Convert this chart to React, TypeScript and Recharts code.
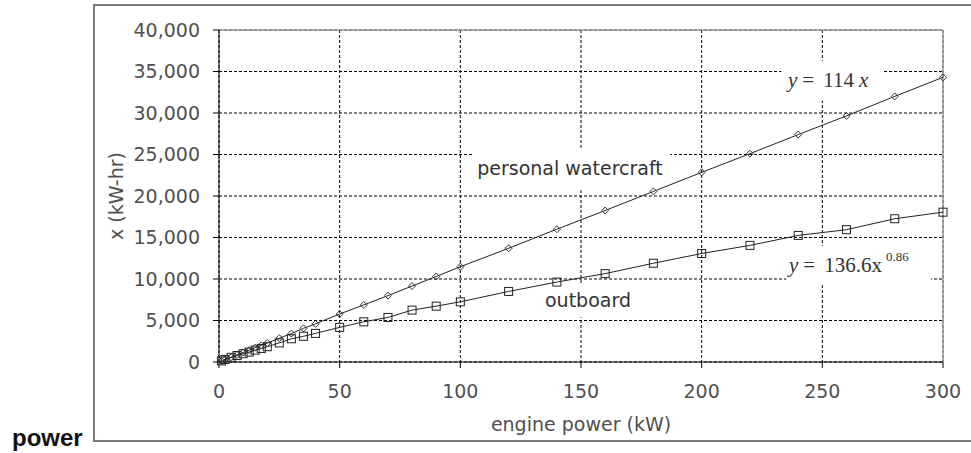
import React from "react";
import {
  LineChart,
  Line,
  XAxis,
  YAxis,
  CartesianGrid,
  ReferenceArea,
  ReferenceLine,
  Label,
} from "recharts";

// engine power (kW) for each sample point
const enginePower = [
  1, 2.5, 5, 7.5, 10, 12.5, 15, 17.5, 20, 25, 30, 35, 40, 50, 60, 70, 80, 90, 100,
  120, 140, 160, 180, 200, 220, 240, 260, 280, 300,
];

// personal watercraft (kW-hr)
const watercraft = [
  115, 290, 575, 860, 1150, 1430, 1720, 2000, 2290, 2860, 3430, 4050, 4600, 5780,
  6880, 8000, 9150, 10300, 11480, 13700, 16000, 18250, 20550, 22850, 25100,
  27400, 29650, 32000, 34300,
];

// outboard (kW-hr)
const outboard = [
  130, 300, 560, 780, 1000, 1200, 1430, 1620, 1840, 2300, 2800, 3100, 3450, 4170,
  4840, 5370, 6250, 6730, 7250, 8500, 9630, 10650, 11900, 13070, 14050, 15250,
  15940, 17260, 18050,
];

const xTicks = [0, 50, 100, 150, 200, 250, 300];
const yTicks = [0, 5000, 10000, 15000, 20000, 25000, 30000, 35000, 40000];

const data = enginePower.map((p, i) => ({
  power: p,
  watercraft: watercraft[i],
  outboard: outboard[i],
}));

const FONT = "DejaVu Sans, sans-serif";
const TEXT = "#505050";

const DiamondDot = (props: any) => {
  const { cx, cy, index } = props;
  if (cx == null || cy == null) return null;
  const r = 3.5;
  return (
    <path
      key={`d-${index}`}
      d={`M${cx},${cy - r}L${cx + r},${cy}L${cx},${cy + r}L${cx - r},${cy}Z`}
      fill="none"
      stroke="#333"
      strokeWidth={1}
    />
  );
};

const SquareDot = (props: any) => {
  const { cx, cy, index } = props;
  if (cx == null || cy == null) return null;
  const h = 4;
  return (
    <rect
      key={`s-${index}`}
      x={cx - h}
      y={cy - h}
      width={h * 2}
      height={h * 2}
      fill="none"
      stroke="#222"
      strokeWidth={1}
    />
  );
};

export default function App() {
  return (
    <div
      style={{
        position: "absolute",
        left: 0,
        top: 0,
        width: 971,
        height: 453,
        overflow: "hidden",
        background: "#fff",
      }}
    >
      {/* outer frame */}
      <div
        style={{
          position: "absolute",
          left: 93,
          top: 4,
          width: 920,
          height: 434,
          border: "2px solid #7a7a7a",
        }}
      />
      <div
        style={{
          position: "absolute",
          left: 12,
          top: 424,
          fontFamily: "Liberation Sans, Arial, sans-serif",
          fontWeight: "bold",
          fontSize: 24,
          color: "#111",
          lineHeight: "28px",
        }}
      >
        power
      </div>
      <div style={{ position: "absolute", left: 0, top: 0 }}>
        <LineChart
          width={971}
          height={453}
          data={data}
          margin={{ top: 30, right: 28, left: 139, bottom: 31 }}
        >
          <CartesianGrid stroke="#000" strokeDasharray="3 2" strokeWidth={1} />
          <XAxis
            dataKey="power"
            type="number"
            domain={[0, 300]}
            ticks={xTicks}
            height={60}
            stroke="#000"
            tickSize={6}
            tickMargin={17}
            tick={{ fill: TEXT, fontSize: 19, fontFamily: FONT }}
          >
            <Label
              content={() => (
                <text
                  x={581}
                  y={431}
                  textAnchor="middle"
                  fill={TEXT}
                  fontSize={19}
                  fontFamily={FONT}
                >
                  engine power (kW)
                </text>
              )}
            />
          </XAxis>
          <YAxis
            type="number"
            domain={[0, 40000]}
            ticks={yTicks}
            width={80}
            stroke="#000"
            tickSize={6}
            tickMargin={13}
            tickFormatter={(v: number) => v.toLocaleString("en-US")}
            tick={{ fill: TEXT, fontSize: 19, fontFamily: FONT }}
          >
            <Label
              content={() => (
                <text
                  x={123}
                  y={196}
                  transform="rotate(-90 123 196)"
                  textAnchor="middle"
                  fill={TEXT}
                  fontSize={19}
                  fontFamily={FONT}
                >
                  x (kW-hr)
                </text>
              )}
            />
          </YAxis>

          <ReferenceLine y={40000} stroke="#9a9a9a" strokeWidth={1.5} />
          <ReferenceLine x={300} stroke="#9a9a9a" strokeWidth={1.5} />

          {/* white boxes behind the annotations */}
          <ReferenceArea
            x1={105}
            x2={187}
            y1={20700}
            y2={25800}
            fill="#fff"
            fillOpacity={1}
            stroke="none"
            label={{
              content: () => (
                <text
                  x={570}
                  y={175}
                  textAnchor="middle"
                  fill="#333"
                  fontSize={19}
                  fontFamily={FONT}
                >
                  personal watercraft
                </text>
              ),
            }}
          />
          <ReferenceArea
            x1={132}
            x2={171}
            y1={5400}
            y2={9300}
            fill="#fff"
            fillOpacity={1}
            stroke="none"
            label={{
              content: () => (
                <text
                  x={588}
                  y={307}
                  textAnchor="middle"
                  fill="#333"
                  fontSize={19}
                  fontFamily={FONT}
                >
                  outboard
                </text>
              ),
            }}
          />
          <ReferenceArea
            x1={233}
            x2={275}
            y1={31500}
            y2={36300}
            fill="#fff"
            fillOpacity={1}
            stroke="none"
            label={{
              content: () => (
                <text
                  x={788}
                  y={87}
                  fill="#333"
                  fontSize={21}
                  fontFamily="Liberation Serif, serif"
                >
                  <tspan fontStyle="italic">y</tspan>
                  <tspan dx={5}>=</tspan>
                  <tspan dx={9}>114</tspan>
                  <tspan dx={5} fontStyle="italic">x</tspan>
                </text>
              ),
            }}
          />
          <ReferenceArea
            x1={235}
            x2={295}
            y1={9500}
            y2={14000}
            fill="#fff"
            fillOpacity={1}
            stroke="none"
            label={{
              content: () => (
                <text
                  x={789}
                  y={272}
                  fill="#333"
                  fontSize={21}
                  fontFamily="Liberation Serif, serif"
                >
                  <tspan fontStyle="italic">y</tspan>
                  <tspan dx={5}>=</tspan>
                  <tspan dx={9}>136.6x</tspan>
                  <tspan dx={4} dy={-11} fontSize={13}>
                    0.86
                  </tspan>
                </text>
              ),
            }}
          />

          <Line
            type="linear"
            dataKey="watercraft"
            stroke="#222"
            strokeWidth={1}
            dot={DiamondDot}
            activeDot={false}
            isAnimationActive={false}
          />
          <Line
            type="linear"
            dataKey="outboard"
            stroke="#222"
            strokeWidth={1}
            dot={SquareDot}
            activeDot={false}
            isAnimationActive={false}
          />
        </LineChart>
      </div>
    </div>
  );
}
